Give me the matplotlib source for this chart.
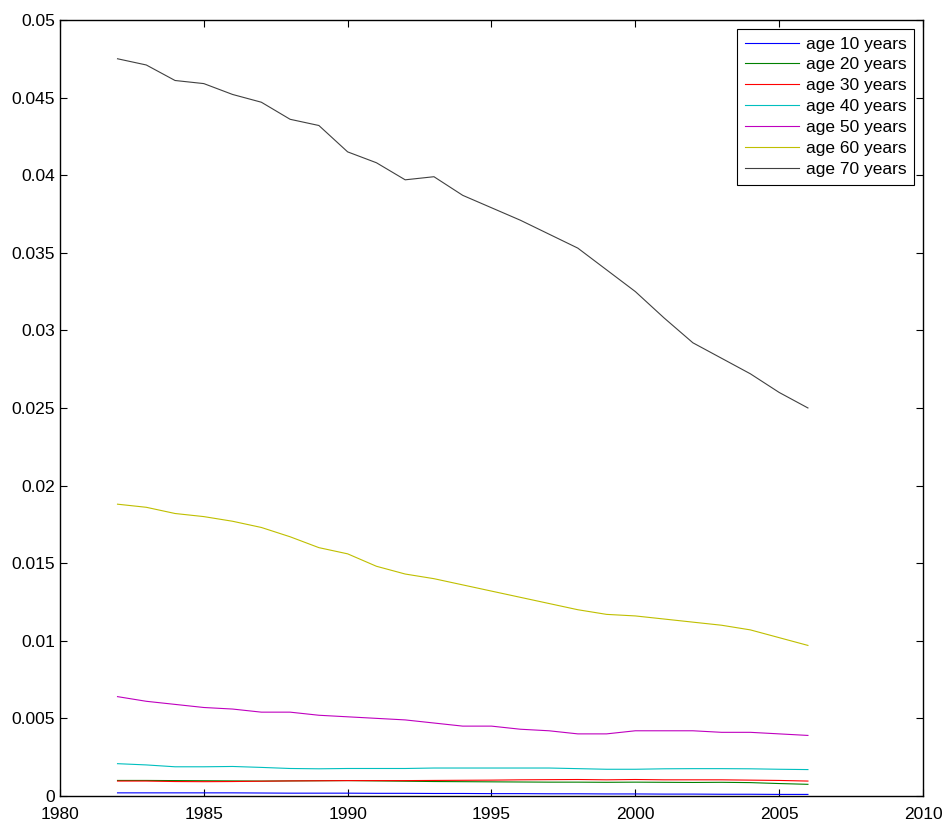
import matplotlib.pyplot as plt
import numpy as np

years = list(range(1982, 2007))
age10 = [0.00020, 0.00020, 0.00020, 0.00020, 0.00020, 0.00019, 0.00018, 0.00018, 0.00018, 0.00017,
         0.00017, 0.00016, 0.00016, 0.00015, 0.00015, 0.00014, 0.00014, 0.00013, 0.00013, 0.00012,
         0.00012, 0.00011, 0.00011, 0.00010, 0.00010]
age20 = [0.00100, 0.00100, 0.00099, 0.00098, 0.00097, 0.00096, 0.00097, 0.00098, 0.00099, 0.00097,
         0.00095, 0.00093, 0.00092, 0.00091, 0.00090, 0.00089, 0.00089, 0.00088, 0.00089, 0.00088,
         0.00087, 0.00088, 0.00086, 0.00080, 0.00075]
age30 = [0.00096, 0.00096, 0.00093, 0.00092, 0.00093, 0.00095, 0.00097, 0.00098, 0.00099, 0.00099,
         0.00099, 0.00100, 0.00101, 0.00102, 0.00104, 0.00105, 0.00106, 0.00104, 0.00106, 0.00104,
         0.00104, 0.00104, 0.00102, 0.00100, 0.00096]
age40 = [0.00208, 0.00200, 0.00188, 0.00188, 0.00190, 0.00184, 0.00177, 0.00175, 0.00177, 0.00177,
         0.00177, 0.00180, 0.00180, 0.00180, 0.00180, 0.00180, 0.00176, 0.00172, 0.00172, 0.00175,
         0.00176, 0.00176, 0.00175, 0.00172, 0.00170]
age50 = [0.0064, 0.0061, 0.0059, 0.0057, 0.0056, 0.0054, 0.0054, 0.0052, 0.0051, 0.0050,
         0.0049, 0.0047, 0.0045, 0.0045, 0.0043, 0.0042, 0.0040, 0.0040, 0.0042, 0.0042,
         0.0042, 0.0041, 0.0041, 0.0040, 0.0039]
age60 = [0.0188, 0.0186, 0.0182, 0.0180, 0.0177, 0.0173, 0.0167, 0.0160, 0.0156, 0.0148,
         0.0143, 0.0140, 0.0136, 0.0132, 0.0128, 0.0124, 0.0120, 0.0117, 0.0116, 0.0114,
         0.0112, 0.0110, 0.0107, 0.0102, 0.0097]
age70 = [0.0475, 0.0471, 0.0461, 0.0459, 0.0452, 0.0447, 0.0436, 0.0432, 0.0415, 0.0408,
         0.0397, 0.0399, 0.0387, 0.0379, 0.0371, 0.0362, 0.0353, 0.0339, 0.0325, 0.0308,
         0.0292, 0.0282, 0.0272, 0.0260, 0.0250]

series = [age10, age20, age30, age40, age50, age60, age70]
labels = ["age 10 years", "age 20 years", "age 30 years", "age 40 years",
          "age 50 years", "age 60 years", "age 70 years"]
colors = [(0, 0, 1), (0, 0.5, 0), (1, 0, 0), (0, 0.75, 0.75),
          (0.75, 0, 0.75), (0.75, 0.75, 0), (0.25, 0.25, 0.25)]

plt.rcParams['font.family'] = ['Liberation Sans', 'DejaVu Sans']
fig = plt.figure(figsize=(9.49, 8.25), dpi=100)
ax = fig.add_axes([0.0632, 0.0352, 0.9094, 0.9406])

for s, lab, c in zip(series, labels, colors):
    ax.plot(years, s, color=c, linewidth=0.8, label=lab)

ax.set_xlim(1980, 2010)
ax.set_ylim(0, 0.05)
ax.set_xticks(range(1980, 2011, 5))
ax.set_yticks(np.arange(0, 0.0501, 0.005))
ax.set_yticklabels(["0", "0.005", "0.01", "0.015", "0.02", "0.025", "0.03",
                    "0.035", "0.04", "0.045", "0.05"])
ax.tick_params(direction='in', length=5, top=True, right=True, labelsize=12.5, width=0.8)
ax.tick_params(axis='x', pad=8)
for sp in ax.spines.values():
    sp.set_linewidth(1.0)

leg = ax.legend(loc='upper right', fontsize=12.5, fancybox=False, edgecolor='black',
                framealpha=1, handlelength=3.1, borderpad=0.45, labelspacing=0.33,
                borderaxespad=0.5, handletextpad=0.4)
leg.get_frame().set_linewidth(0.8)

fig.savefig("out.png", dpi=100)
